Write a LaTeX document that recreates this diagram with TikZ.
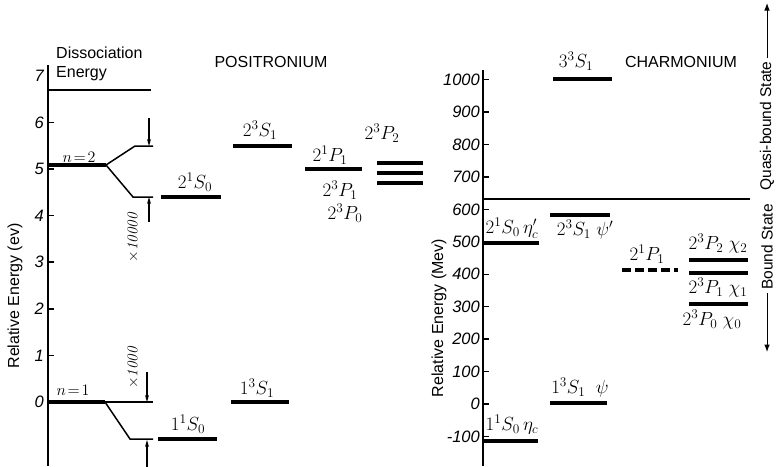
\RequirePackage{fix-cm}
\documentclass[tikz,border=0pt]{standalone}
\usepackage{fontspec}
\setsansfont{Liberation Sans}
\usetikzlibrary{arrows.meta,positioning}

\begin{document}
\begin{tikzpicture}[x=1pt,y=-1pt,>={Stealth[length=7pt,width=4pt]},
 lvl/.style={line width=3.2pt},
 ax/.style={line width=1.5pt},
 txt/.style={font=\sffamily\fontsize{16}{19}\selectfont},
 num/.style={font=\sffamily\itshape\fontsize{16.5}{19}\selectfont,anchor=east,inner sep=1pt},
 st/.style={font=\fontsize{19}{22}\selectfont,inner sep=1pt},
 side/.style={font=\sffamily\fontsize{15.5}{18}\selectfont,rotate=90,inner sep=3pt}]
\useasboundingbox (0,0) rectangle (776,466);

% positronium
\draw[ax] (48,65) -- (48,466);
\foreach \v in {1,...,6} \draw[ax] (48,402-46.6*\v) -- (54,402-46.6*\v);
\foreach \v in {0,...,7} \node[num] (pt\v) at (45,402-46.6*\v) {\v};
\node[txt,rotate=90] (pe) at (15,296) {Relative Energy (ev)};
\node[txt,align=left,anchor=north west,inner sep=0pt] (dis) at (56,47) {Dissociation\\Energy};
\node[txt] (pos) at (271,62) {POSITRONIUM};
\draw[ax] (48,90) -- (151,90);

\draw[lvl] (48,165) -- (106,165);
\draw[ax] (106,165) -- (135,146) -- (153,146);
\draw[ax] (106,165) -- (133,197) -- (153,197);
\coordinate (a1) at (149,118); \coordinate (a2) at (149,146);
\coordinate (a3) at (149,222); \coordinate (a4) at (149,197);
\draw[->,ax] (a1) -- (a2);
\draw[->,ax] (a3) -- (a4);
\node[st,font=\fontsize{16}{19}\selectfont] (n2) at (79,157) {$n\!=\!2$};
\node[st,rotate=90,font=\fontsize{15}{17}\selectfont] (x4) at (133,238) {$\times\mathit{10000}$};

\draw[lvl] (48,402) -- (105,402);
\draw[ax] (105,402) -- (153,402);
\draw[ax] (105,402) -- (130,439) -- (153,439);
\coordinate (b1) at (147,372); \coordinate (b2) at (147,402);
\coordinate (b3) at (147,468); \coordinate (b4) at (147,440);
\draw[->,ax] (b1) -- (b2);
\draw[->,ax] (b3) -- (b4);
\node[st,font=\fontsize{16}{19}\selectfont] (n1) at (73,390) {$n\!=\!1$};
\node[st,rotate=90,font=\fontsize{15}{17}\selectfont] (x3) at (133,368) {$\times\mathit{1000}$};

\draw[lvl] (161,197) -- (221,197); \node[st] (ps21s0) at (195,182) {$2^1S_0$};
\draw[lvl] (233,146) -- (292,146); \node[st] (ps23s1) at (260,130) {$2^3S_1$};
\draw[lvl] (305,169) -- (362,169); \node[st] (ps21p1) at (330,155) {$2^1P_1$};
\node[st] (ps23p1) at (340,190) {$2^3P_1$};
\node[st] (ps23p0) at (345,213) {$2^3P_0$};
\node[st] (ps23p2) at (382,133) {$2^3P_2$};
\foreach \y in {163,173,183} \draw[lvl] (377,\y) -- (423,\y);
\draw[lvl] (158,439) -- (217,439); \node[st] (ps11s0) at (188,424) {$1^1S_0$};
\draw[lvl] (231,402) -- (289,402); \node[st] (ps13s1) at (257,388) {$1^3S_1$};

% charmonium
\draw[ax] (483,70) -- (483,466);
\foreach \v in {-100,0,100,...,1000} {
 \draw[ax] (483,404-0.3243*\v) -- (489,404-0.3243*\v);
 \node[num] (ct\v) at (481,404-0.3243*\v) {\v};
}
\node[txt,rotate=90] (ce) at (439,318) {Relative Energy (Mev)};
\node[txt] (cha) at (681,62) {CHARMONIUM};
\draw[ax] (483,199) -- (750,199);

\draw[lvl] (553,79) -- (612,79); \node[st] (c33s1) at (576,61) {$3^3S_1$};
\draw[lvl] (550,215) -- (610,215); \node[st] (c23s1) at (585,230) {$2^3S_1\;\psi'$};
\draw[lvl] (483,243) -- (539,243); \node[st] (c21s0) at (512,228) {$2^1S_0\,\eta_c'$};
\draw[lvl,dash pattern=on 9pt off 4pt] (622,270) -- (678,270); \node[st] (c21p1) at (647,254) {$2^1P_1$};
\draw[lvl] (689,260) -- (748,260); \node[st] (c23p2) at (718,244) {$2^3P_2\;\chi_2$};
\draw[lvl] (689,273) -- (748,273); \node[st] (c23p1) at (718,288) {$2^3P_1\;\chi_1$};
\draw[lvl] (689,304) -- (748,304); \node[st] (c23p0) at (712,320) {$2^3P_0\;\chi_0$};
\draw[lvl] (550,403) -- (607,403); \node[st] (c13s1) at (580,388) {$1^3S_1\;\;\psi$};
\draw[lvl] (483,441) -- (538,441); \node[st] (c11s0) at (512,425) {$1^1S_0\,\eta_c$};

% state arrow
\node[side] (qb) at (767,126) {Quasi-bound State};
\node[side] (bs) at (767,247) {Bound State};
\coordinate (up) at (767,3);
\coordinate (dn) at (767,352);
\draw[-Latex,line width=1pt] (qb.east) -- (up);
\draw[-Latex,line width=1pt] (bs.west) -- (dn);
\end{tikzpicture}
\end{document}
